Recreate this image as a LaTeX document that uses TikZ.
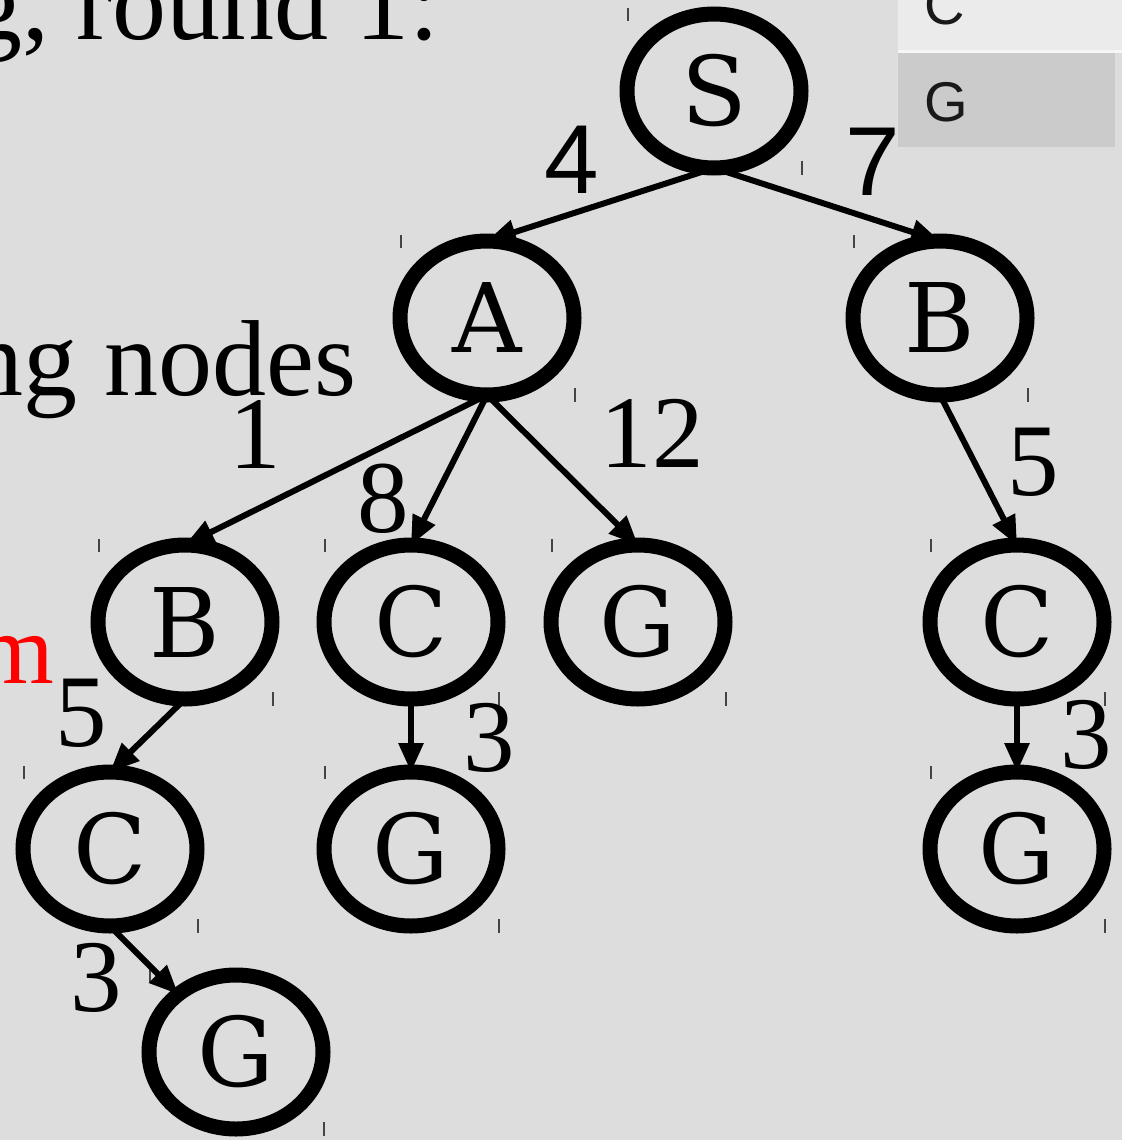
\documentclass[tikz,border=0pt]{standalone}
\usepackage{fontspec}
\setmainfont{Liberation Serif}
\newfontfamily\nodefont{DejaVu Serif}
\newfontfamily\sansf{Liberation Sans}
\usetikzlibrary{arrows.meta,shapes.geometric}
\definecolor{bgcol}{HTML}{DDDDDD}
\definecolor{itemlight}{HTML}{EBEBEB}
\definecolor{itemsel}{HTML}{CBCBCB}
\definecolor{itemline}{HTML}{F6F6F6}
\definecolor{tickcol}{HTML}{444444}
\begin{document}
\begin{tikzpicture}[x=1pt,y=-1pt,
  st/.style={draw, ellipse, line width=15pt, minimum width=174pt, minimum height=154pt,
    inner sep=0pt, outer sep=0pt, font=\nodefont\fontsize{96}{96}\selectfont},
  edge/.style={line width=6pt, -{Triangle[length=29pt,width=24pt]}},
  lab/.style={inner sep=0pt, font=\fontsize{103}{103}\selectfont},
  slab/.style={inner sep=0pt, font=\sansf\fontsize{98}{98}\selectfont},
  bigtext/.style={inner sep=0pt, font=\fontsize{108}{108}\selectfont},
  listtext/.style={inner sep=0pt, text=black!90, font=\sansf\fontsize{56}{56}\selectfont},
  tickst/.style={draw=tickcol, line width=1.4pt}
]
\useasboundingbox (0,0) rectangle (1122,1140);
\fill[bgcol] (0,0) rectangle (1122,1140);

% list box at top right
\fill[itemlight] (898,0) rectangle (1122,50);
\fill[itemline] (898,50) rectangle (1122,53);
\fill[itemsel] (898,53) rectangle (1115,147);
\node[listtext] (lc) at (945,5) {C};
\node[listtext] (lg) at (946,102) {G};

% background texts
\node[bigtext, anchor=base east] (t1) at (440,40) {g, round 1:};
\node[bigtext, anchor=base east] (t2) at (357,395) {ng nodes};
\node[inner sep=0pt, anchor=base east, text=red, font=\fontsize{100}{100}\selectfont] (t3) at (54,683) {m};

% nodes
\node[st] (S)  at (714,91)  {S};
\node[st] (A)  at (487,318) {A};
\node[st] (B1) at (940,318) {B};
\node[st] (B2) at (185,622) {B};
\node[st] (C1) at (411,622) {C};
\node[st] (G1) at (638,622) {G};
\node[st] (C2) at (1017,622) {C};
\node[st] (C3) at (110,849) {C};
\node[st] (G2) at (411,849) {G};
\node[st] (G3) at (1017,849) {G};
\node[st] (G4) at (236,1052) {G};

% ticks
\foreach \n in {S,A,B1,B2,C1,G1,C2,C3,G2,G3,G4}{
  \draw[tickst] (\n.center) ++(-86,-83) -- ++(0,13);
  \draw[tickst] (\n.center) ++(88,70) -- ++(0,14);
}

% edges
\draw[edge] (S.south) -- (A.north);
\draw[edge] (S.south) -- (B1.north);
\draw[edge] (A.south) -- (B2.north);
\draw[edge] (A.south) -- (C1.north);
\draw[edge] (A.south) -- (G1.north);
\draw[edge] (B1.south) -- (C2.north);
\draw[edge] (B2.south) -- (C3.north);
\draw[edge] (C1.south) -- (G2.north);
\draw[edge] (C2.south) -- (G3.north);
\draw[edge] (C3.south) -- (G4);

% edge labels
\node[slab] (l4) at (572,160) {4};
\node[slab] (l7) at (873,162) {7};
\node[lab] (l1) at (255,434) {1};
\node[lab] (l8) at (383,499) {8};
\node[lab] (l12) at (652,433) {12};
\node[lab] (l5a) at (1033,462) {5};
\node[lab] (l5b) at (81,713) {5};
\node[lab] (l3a) at (489,738) {3};
\node[lab] (l3b) at (1086,735) {3};
\node[lab] (l3c) at (96,978) {3};
\end{tikzpicture}
\end{document}
